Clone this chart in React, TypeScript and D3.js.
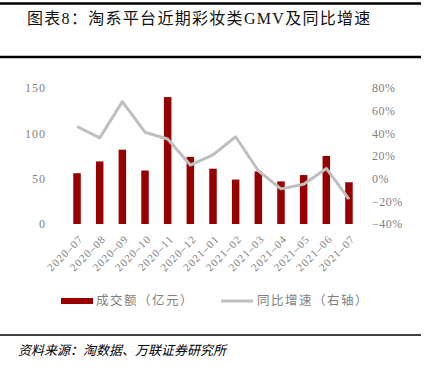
import React from "react";
import * as d3 from "d3";

const months = [
  "2020-07", "2020-08", "2020-09", "2020-10", "2020-11", "2020-12", "2021-01",
  "2021-02", "2021-03", "2021-04", "2021-05", "2021-06", "2021-07",
];
const gmv = [56, 69, 82, 59, 140, 74, 61, 49, 58, 47, 54, 75, 46];
const yoy = [46, 36, 68, 41, 35, 12, 21, 37, 7, -9, -5, 9, -18];
const leftTicks = [0, 50, 100, 150];
const rightTicks = [-40, -20, 0, 20, 40, 60, 80];

const W = 428;
const H = 373;
const plot = { left: 65.7, right: 360.3, top: 88, bottom: 224 };

const serif = "'Liberation Serif', 'Noto Sans CJK SC', serif";
const tickColor = "#7f7f7f";

const App = () => {
  const x = d3.scaleBand().domain(months).range([plot.left, plot.right]).paddingInner(0);
  const yL = d3.scaleLinear().domain([0, 150]).range([plot.bottom, plot.top]);
  const yR = d3.scaleLinear().domain([-40, 80]).range([plot.bottom, plot.top]);
  const barW = 7.5;
  const cx = (m: string) => (x(m) as number) + x.bandwidth() / 2;

  const line = d3
    .line<number>()
    .x((_, i) => cx(months[i]))
    .y((d) => yR(d));

  return (
    <svg
      width={W}
      height={H}
      style={{ position: "absolute", left: 0, top: 0, background: "#fff" }}
    >
      {/* frame lines */}
      <line x1={0} x2={421} y1={3.5} y2={3.5} stroke="#000" strokeWidth={2.5} />
      <line x1={0} x2={421} y1={57} y2={57} stroke="#000" strokeWidth={2.5} />
      <line x1={0} x2={421} y1={335} y2={335} stroke="#000" strokeWidth={1.5} />

      <text x={27} y={24} fontSize={16} fontFamily={serif} fill="#111" letterSpacing={1.3}>
        图表8：淘系平台近期彩妆类GMV及同比增速
      </text>

      {/* left axis */}
      {leftTicks.map((t) => (
        <text
          key={"l" + t}
          x={46}
          y={yL(t)}
          dy="0.35em"
          textAnchor="end"
          fontSize={12}
          fontFamily={serif}
          fill={tickColor}
          letterSpacing={1}
        >
          {t}
        </text>
      ))}

      {/* right axis */}
      {rightTicks.map((t) => (
        <text
          key={"r" + t}
          x={372}
          y={yR(t)}
          dy="0.35em"
          textAnchor="start"
          fontSize={12}
          fontFamily={serif}
          fill={tickColor}
          letterSpacing={0.5}
        >
          {t < 0 ? "−" + Math.abs(t) + "%" : t + "%"}
        </text>
      ))}

      {/* bars */}
      {gmv.map((v, i) => (
        <rect
          key={months[i]}
          x={cx(months[i]) - barW / 2}
          y={yL(v)}
          width={barW}
          height={yL(0) - yL(v)}
          fill="#960000"
        />
      ))}

      {/* yoy line */}
      <path
        d={line(yoy) || ""}
        fill="none"
        stroke="#bfbfbf"
        strokeWidth={3}
        strokeLinejoin="round"
      />

      {/* x labels */}
      {months.map((m) => (
        <text
          key={"x" + m}
          transform={`translate(${cx(m) + 4},${plot.bottom + 13}) rotate(-45)`}
          textAnchor="end"
          fontSize={11}
          fontFamily={serif}
          fill={tickColor}
          letterSpacing={1}
          dy="0.35em"
        >
          {m.replace("-", "–")}
        </text>
      ))}

      {/* legend */}
      <rect x={61} y={298} width={32} height={6} fill="#960000" />
      <text x={96} y={301} dy="0.35em" fontSize={12.5} fontFamily={serif} fill={tickColor} letterSpacing={1.5}>
        成交额（亿元）
      </text>
      <line x1={221} x2={253} y1={301} y2={301} stroke="#bfbfbf" strokeWidth={3} />
      <text x={257} y={301} dy="0.35em" fontSize={12.5} fontFamily={serif} fill={tickColor} letterSpacing={1.5}>
        同比增速（右轴）
      </text>

      <text
        x={18}
        y={350}
        dy="0.35em"
        fontSize={13}
        fontStyle="italic"
        fontFamily={serif}
        fill="#000"
      >
        资料来源：淘数据、万联证券研究所
      </text>
    </svg>
  );
};

export default App;
